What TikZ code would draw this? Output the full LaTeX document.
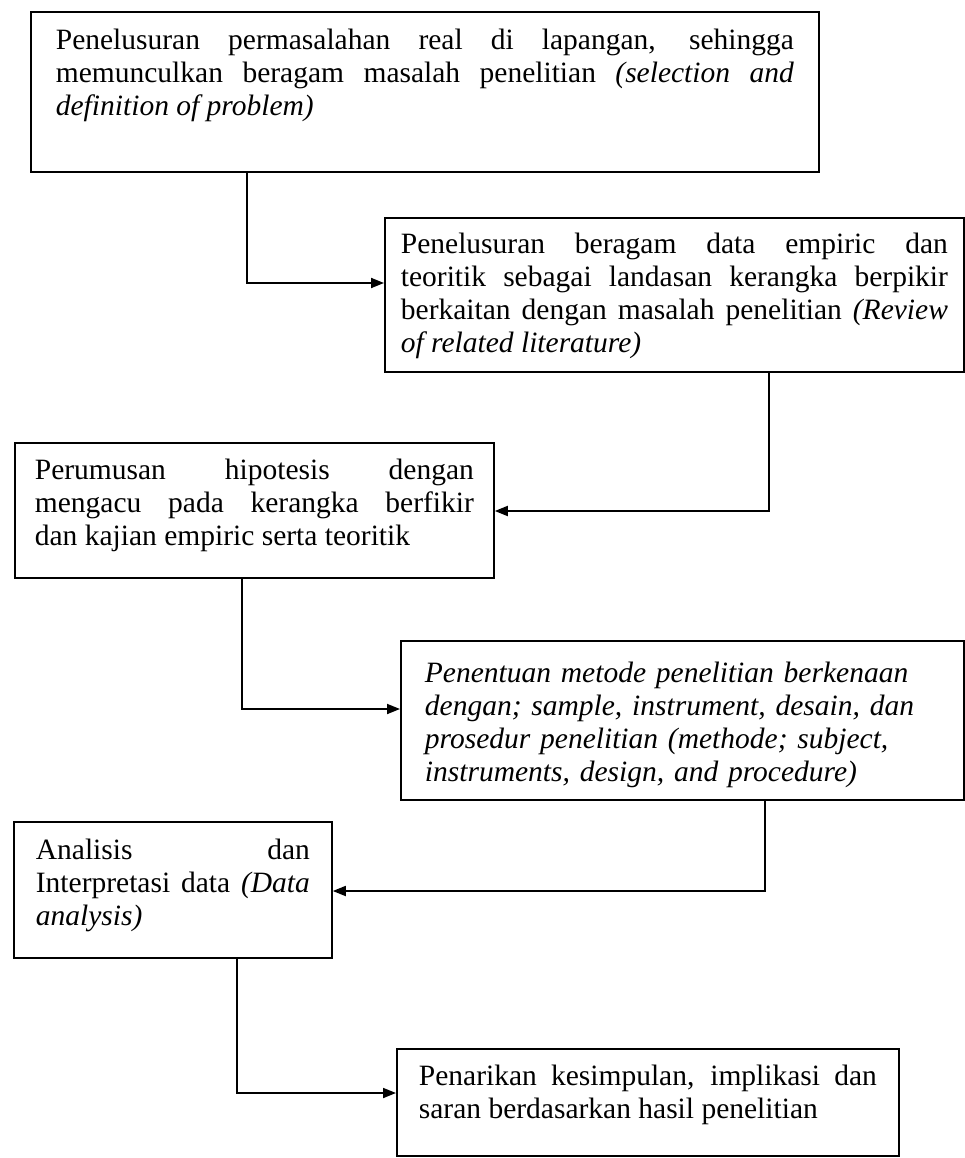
\documentclass[tikz,border=0pt]{standalone}
\usepackage{fontspec}
\setmainfont{Liberation Serif}
\usetikzlibrary{arrows.meta}
\begin{document}
\begin{tikzpicture}[x=1pt,y=1pt,
  box/.style={draw, line width=1.8pt, anchor=north west, inner ysep=0pt,
    font=\fontsize{29.5}{33}\selectfont, text height=37pt},
  conn/.style={line width=1.8pt, -{Triangle[length=13pt,width=10pt]}},
]
\useasboundingbox (0,0) rectangle (964,-1158);

\node[box, inner xsep=25pt, text width=738pt, text height=38pt, text depth=122pt, align=justify] (b1) at (30,-11)
 {Penelusuran permasalahan real di lapangan, sehingga\linebreak
  memunculkan beragam masalah penelitian \textit{(selection and}\linebreak
  \textit{definition of problem)}};

\node[box, inner xsep=16pt, text width=547pt, text height=36pt, text depth=118pt, align=justify] (b2) at (384,-217)
 {Penelusuran beragam data empiric dan\linebreak
  teoritik sebagai landasan kerangka berpikir\linebreak
  berkaitan dengan masalah penelitian \textit{(Review}\linebreak
  \textit{of related literature)}};

\node[box, inner xsep=20pt, text width=439pt, text depth=98pt, align=justify] (b3) at (14,-442)
 {Perumusan hipotesis dengan\linebreak
  mengacu pada kerangka berfikir\linebreak
  dan kajian empiric serta teoritik};

\node[box, inner xsep=24pt, text width=515pt, text height=42pt, text depth=117pt, align=left] (b4) at (400,-640)
 {\itshape Penentuan metode penelitian berkenaan\\
  dengan; sample, instrument, desain, dan\\
  prosedur penelitian (methode; subject,\\
  instruments, design, and procedure)};

\node[box, inner xsep=22pt, text width=274pt, text height=38pt, text depth=98pt, align=justify] (b5) at (13,-821)
 {Analisis dan\linebreak
  Interpretasi data \textit{(Data}\linebreak
  \textit{analysis)}};

\node[box, inner xsep=22pt, text width=458pt, text depth=70pt, align=justify] (b6) at (396,-1048)
 {Penarikan kesimpulan, implikasi dan\linebreak
  saran berdasarkan hasil penelitian};

\coordinate (k1) at (247,-283);
\coordinate (k2) at (769,-511);
\coordinate (k3) at (242,-709);
\coordinate (k4) at (765,-891);
\coordinate (k5) at (237,-1093);

\draw[conn] (b1.south -| k1) |- (k1 -| b2.west);
\draw[conn] (b2.south -| k2) |- (k2 -| b3.east);
\draw[conn] (b3.south -| k3) |- (k3 -| b4.west);
\draw[conn] (b4.south -| k4) |- (k4 -| b5.east);
\draw[conn] (b5.south -| k5) |- (k5 -| b6.west);
\end{tikzpicture}
\end{document}
